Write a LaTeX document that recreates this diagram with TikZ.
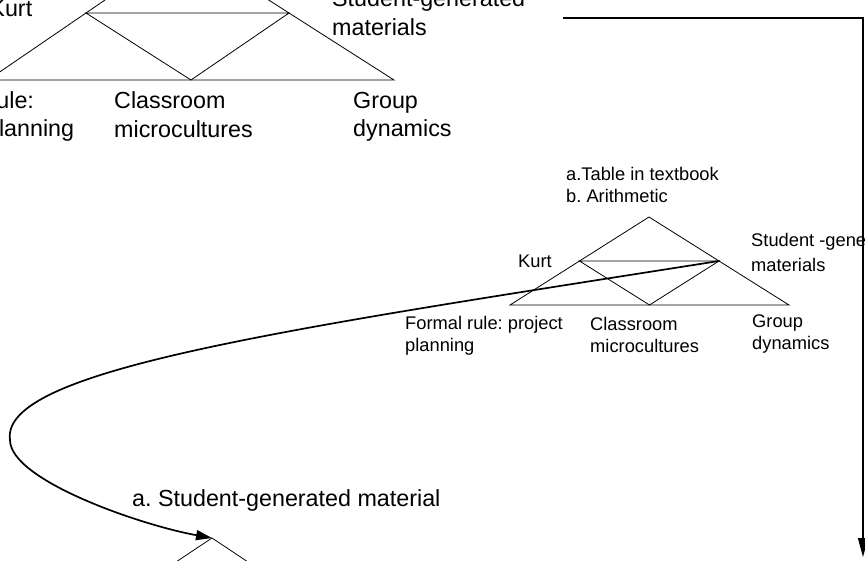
\documentclass[tikz,border=0pt]{standalone}
\usepackage{fontspec}
\setmainfont{Liberation Sans}
\usetikzlibrary{arrows.meta,calc}
\frenchspacing

% left-aligned block whose reference point is the first baseline
\newcommand\twoline[1]{\begin{tabular}[t]{@{}l@{}}#1\end{tabular}}

\tikzset{
  tri/.style={line width=0.8pt, line join=miter},
  bigtxt/.style={inner sep=0pt, anchor=base west, font=\fontsize{23.3}{28.5}\selectfont},
  smalltxt/.style={inner sep=0pt, anchor=base west, font=\fontsize{18.3}{22}\selectfont},
  curvelink/.style={line width=1.7pt, line cap=round, -{Triangle[length=16pt,width=10pt]}},
  edgelink/.style={line width=1.5pt, -{Triangle[length=19pt,width=10pt]}},
}

\begin{document}
\begin{tikzpicture}[x=1pt,y=-1pt]
\useasboundingbox (0,0) rectangle (865,560);
\clip (0,0) rectangle (865,560);

% ---------- upper triangle ----------
\coordinate (uA) at (184,-54);
\coordinate (uL) at (-12,80);
\coordinate (uR) at (394,80);
\draw[tri] (uA) -- (uL) -- (uR) -- cycle;
\draw[tri] ($(uA)!0.5!(uL)$) -- ($(uA)!0.5!(uR)$) -- ($(uL)!0.5!(uR)$) -- cycle;

\node[bigtxt] (uKurt) at (-10.7,16) {Kurt};
\node[bigtxt] (uStud) at (332,6.5) {\twoline{Student-generated\\materials}};
\node[bigtxt] (uRule) at (-90.5,108) {\twoline{Formal rule:\\project planning}};
\node[bigtxt] (uClass) at (114,108.5) {\twoline{Classroom\\microcultures}};
\node[bigtxt] (uGroup) at (353,108) {\twoline{Group\\dynamics}};

% ---------- middle triangle ----------
\coordinate (mA) at (649,217);
\coordinate (mL) at (510,305);
\coordinate (mR) at (789,305);
\coordinate (mSide) at ($(mA)!0.5!(mR)$);
\draw[tri] (mA) -- (mL) -- (mR) -- cycle;
\draw[tri] ($(mA)!0.5!(mL)$) -- (mSide) -- ($(mL)!0.5!(mR)$) -- cycle;

\node[smalltxt] (mTable) at (566,180) {\twoline{a.Table in textbook\\b. Arithmetic}};
\node[smalltxt] (mKurt) at (518,267.7) {Kurt};
\node[smalltxt, font=\fontsize{18.3}{24.3}\selectfont] (mStud) at (751,246.7) {\twoline{Student -generated\\materials}};
\node[smalltxt] (mRule) at (405,329.5) {\twoline{Formal rule: project\\planning}};
\node[smalltxt] (mClass) at (590,330) {\twoline{Classroom\\microcultures}};
\node[smalltxt] (mGroup) at (752,327) {\twoline{Group\\dynamics}};

% ---------- lower triangle (apex only in view) ----------
\coordinate (bA) at (212,538);
\coordinate (bL) at (152,578);
\coordinate (bR) at (272,578);
\draw[tri] (bL) -- (bA) -- (bR);

\node[bigtxt] (bStud) at (132,506.7) {a. Student-generated material};

% ---------- connectors ----------
\coordinate (leftTurn) at (10,440);
\draw[curvelink] (mSide) .. controls (280,330) and (0,370) .. (leftTurn)
                         .. controls (10,480) and (140,525) .. (bA);

\coordinate (feedStart) at (563,18);
\coordinate (feedEnd) at (863,557);
\draw[edgelink] (feedStart) -| (feedEnd);
\end{tikzpicture}
\end{document}
